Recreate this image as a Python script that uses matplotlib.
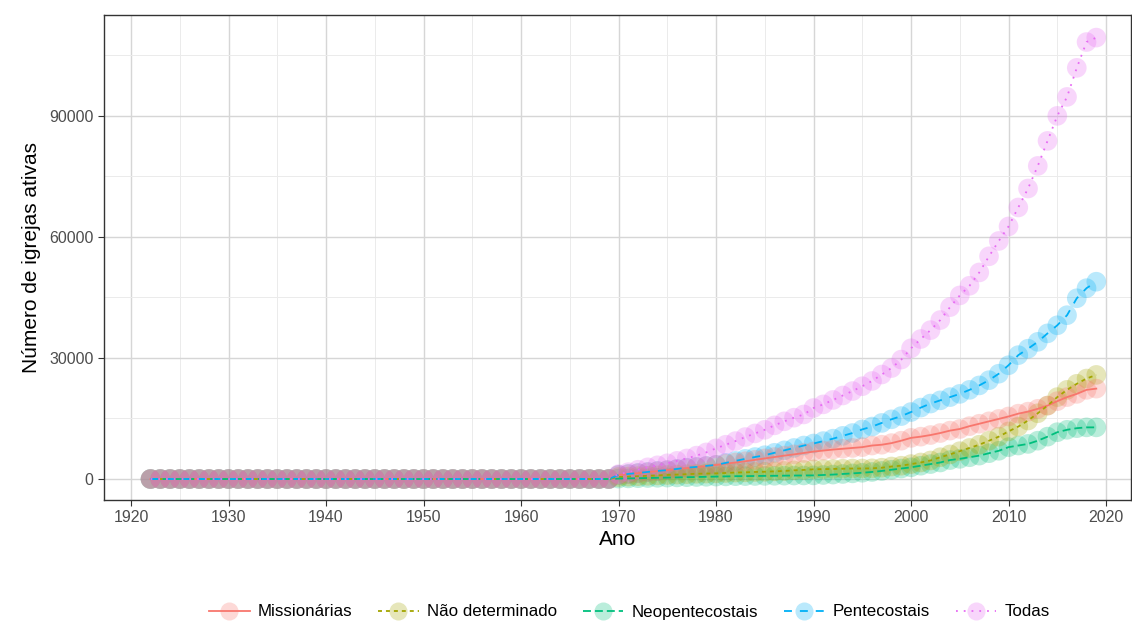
import numpy as np
import matplotlib
matplotlib.use("Agg")
import matplotlib.pyplot as plt
from matplotlib.lines import Line2D
from matplotlib.ticker import MultipleLocator
from matplotlib.colors import to_rgba

plt.rcParams['font.family'] = ['Liberation Sans', 'DejaVu Sans']

# anos 1922-2019
anos = list(range(1922, 2020))

# 1922-1969: todas as séries praticamente em zero
zeros_inicio = [0, 0, 0, 0, 0, 0, 0, 0, 0, 0, 0, 0,
                0, 0, 0, 0, 0, 0, 0, 0, 0, 0, 0, 0,
                0, 0, 0, 0, 0, 0, 0, 0, 0, 0, 0, 0,
                0, 0, 0, 0, 0, 0, 0, 0, 0, 0, 0, 0]

# 1970-2019
missionarias = [1000, 1200, 1450, 1700, 1950, 2200, 2450, 2700, 2950, 3200,
                3500, 3800, 4100, 4400, 4750, 5100, 5450, 5800, 6100, 6450,
                6800, 7050, 7300, 7500, 7700, 7900, 8300, 8500, 8900, 9500,
                10200, 10500, 10900, 11400, 12000, 12400, 13100, 13700, 14300, 14900,
                15500, 16200, 16700, 17400, 18200, 19300, 20300, 21100, 22100, 22400]

nao_determinado = [500, 600, 700, 800, 900, 1000, 1100, 1200, 1300, 1350,
                   1400, 1500, 1600, 1650, 1750, 1800, 1900, 2000, 2150, 2250,
                   2400, 2450, 2500, 2550, 2600, 2600, 2650, 2800, 3100, 3300,
                   3700, 4100, 4600, 5400, 6100, 6900, 7700, 8500, 9500, 10500,
                   11800, 13000, 14500, 16300, 18200, 20300, 22100, 23600, 24900, 25800]

neopentecostais = [100, 150, 200, 250, 300, 350, 400, 450, 500, 550,
                   600, 650, 700, 720, 750, 780, 800, 830, 860, 880,
                   900, 1000, 1100, 1250, 1400, 1550, 1750, 2000, 2300, 2600,
                   2900, 3300, 3700, 4100, 4700, 5000, 5400, 5800, 6400, 7000,
                   7900, 8300, 8700, 9500, 10500, 11600, 12200, 12600, 12800, 12800]

pentecostais = [1000, 1250, 1500, 1750, 2000, 2200, 2500, 2800, 3000, 3250,
                3500, 4000, 4500, 5000, 5450, 5900, 6500, 7100, 7700, 8300,
                8800, 9400, 10000, 10700, 11400, 12300, 13000, 13900, 14800, 15600,
                16600, 17700, 18700, 19500, 20300, 21100, 22100, 23200, 24500, 26100,
                28200, 30700, 32300, 34000, 36100, 38100, 40600, 44800, 47300, 48900]

todas = [1200, 1700, 2300, 2900, 3400, 3900, 4500, 5100, 5800, 6600,
         7600, 8500, 9400, 10400, 11300, 12200, 13300, 14300, 15200, 16000,
         17600, 18500, 19600, 20700, 21800, 23000, 24300, 25900, 27500, 29600,
         32400, 34700, 36900, 39400, 42600, 45500, 47900, 51200, 55200, 59000,
         62600, 67300, 72000, 77600, 83800, 90000, 94700, 101900, 108300, 109400]

nomes = ['Missionárias', 'Não determinado', 'Neopentecostais', 'Pentecostais', 'Todas']
cores = ['#F8766D', '#A3A500', '#00BF7D', '#00B0F6', '#E76BF3']
tracos = [None, (2.2, 2.2), (4.4, 2.2), (4.4, 4.4), (1.0, 3.3)]
series = [missionarias, nao_determinado, neopentecostais, pentecostais, todas]

fig = plt.figure(figsize=(11.32, 6.24), dpi=100)
ax = fig.add_axes([104 / 1132, 1 - 500 / 624, (1131 - 104) / 1132, (500 - 15) / 624])

# pontos primeiro (ordem que deixa a sobreposição em zero arroxeada), linhas por cima
for i in [3, 2, 1, 0, 4]:
    valores = zeros_inicio + series[i]
    ax.scatter(anos, valores, s=200, color=cores[i], alpha=0.27, edgecolors='none', zorder=2)

for serie, cor, traco in zip(series, cores, tracos):
    valores = zeros_inicio + serie
    linha, = ax.plot(anos, valores, color=cor, lw=1.3, zorder=3)
    if traco is not None:
        linha.set_dashes(traco)

ax.set_xlim(1917.23, 2022.56)
ax.set_ylim(-5200, 115000)
ax.xaxis.set_major_locator(MultipleLocator(10))
ax.xaxis.set_minor_locator(MultipleLocator(5))
ax.yaxis.set_major_locator(MultipleLocator(30000))
ax.yaxis.set_minor_locator(MultipleLocator(15000))

ax.grid(which='major', color='#D6D6D6', lw=1.0, zorder=0)
ax.grid(which='minor', color='#EBEBEB', lw=0.7, zorder=0)
ax.set_axisbelow(True)
for s in ax.spines.values():
    s.set_color('#333333')
    s.set_linewidth(1.0)
ax.tick_params(which='major', length=4, color='#333333', labelsize=11.5, labelcolor='#4D4D4D')
ax.tick_params(which='minor', length=0)

ax.set_xlabel('Ano', fontsize=15, labelpad=3)
ax.set_ylabel('Número de igrejas ativas', fontsize=15, labelpad=6)

handles = []
for nome, cor, traco in zip(nomes, cores, tracos):
    h = Line2D([], [], color=cor, lw=1.3, marker='o', markersize=13,
               markerfacecolor=to_rgba(cor, 0.27), markeredgecolor='none', label=nome)
    if traco is not None:
        h.set_dashes(traco)
    handles.append(h)
fig.legend(handles=handles, loc='center', bbox_to_anchor=(0.556, 1 - 612 / 624), ncol=5,
           frameon=False, fontsize=12.2, handlelength=2.4, columnspacing=1.5, handletextpad=0.5)

fig.savefig('out.png', dpi=100)
